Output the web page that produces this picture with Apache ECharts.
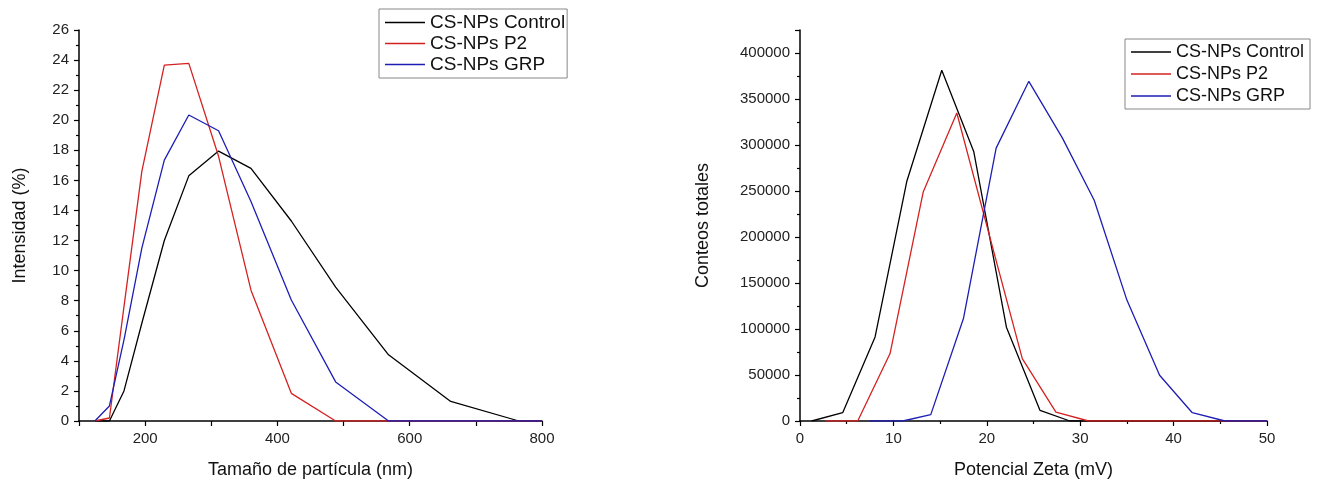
<!DOCTYPE html>
<html>
<head>
<meta charset="utf-8">
<script src="https://cdn.jsdelivr.net/npm/echarts@6/dist/echarts.min.js"></script>
<style>
html, body { margin: 0; padding: 0; background: #fff; }
#chart { width: 1318px; height: 483px; }
</style>
</head>
<body>
<div id="chart"></div>
<script>
// nombres de las series
var seriesNames = ['CS-NPs Control', 'CS-NPs P2', 'CS-NPs GRP'];
var seriesColors = ['#000000', '#d42222', '#1e1eb4'];

// grafico izquierdo: tamaño de particula (nm) vs intensidad (%)
var sizeNm = [124, 146, 168, 195, 229, 266, 311, 360, 421, 488, 568, 662, 765, 800];
var intControl = [0, 0, 2.0, 6.5, 12.0, 16.3, 17.95, 16.8, 13.3, 8.9, 4.4, 1.3, 0, 0];
var intP2 = [0, 0.2, 7.6, 16.6, 23.67, 23.78, 17.6, 8.7, 1.84, 0, 0, 0, 0, 0];
var intGrp = [0, 1.0, 5.4, 11.5, 17.35, 20.35, 19.3, 14.6, 8.05, 2.6, 0, 0, 0, 0];
var sizeTicks = [200, 400, 600, 800];

// grafico derecho: potencial zeta (mV) vs conteos totales
var zetaControl = [1.25, 4.57, 8.04, 11.43, 15.18, 18.6, 22.1, 25.7, 28.9, 50];
var countsControl = [0, 9000, 91400, 260300, 381200, 293000, 102000, 11500, 0, 0];
var zetaP2 = [2.7, 6.18, 9.64, 13.2, 16.79, 20.3, 23.8, 27.4, 30.9, 50];
var countsP2 = [0, 0, 73300, 249300, 334800, 201000, 67800, 9700, 0, 0];
var zetaGrp = [7.5, 11.0, 14.0, 17.5, 21.0, 24.5, 28.1, 31.5, 35.0, 38.5, 42.0, 45.5, 50];
var countsGrp = [0, 0, 6900, 111400, 296600, 369200, 307500, 240000, 131400, 49700, 9000, 0, 0];

var FONT = 'Arial, "Liberation Sans", sans-serif';

function zip(xs, ys) {
	var out = [];
	for (var i = 0; i < xs.length; i++) {
		out.push([xs[i], ys[i]]);
	}
	return out;
}

function axisBase(extra) {
	var base = {
		type: 'value',
		nameLocation: 'middle',
		nameTextStyle: { fontFamily: FONT, fontSize: 18, color: '#111' },
		axisLine: { show: true, onZero: false, lineStyle: { color: '#000', width: 1.5 } },
		axisTick: { show: true, length: 5, lineStyle: { color: '#000', width: 1.2 } },
		minorTick: { show: true, splitNumber: 2, length: 3, lineStyle: { color: '#000', width: 1.2 } },
		axisLabel: { fontFamily: FONT, fontSize: 15, color: '#222', margin: 10 },
		splitLine: { show: false },
		minorSplitLine: { show: false }
	};
	for (var k in extra) base[k] = extra[k];
	return base;
}

function lineSeries(name, idx, data, color) {
	return {
		name: name,
		type: 'line',
		xAxisIndex: idx,
		yAxisIndex: idx,
		data: data,
		symbol: 'none',
		lineStyle: { color: color, width: 1.3 },
		itemStyle: { color: color },
		animation: false
	};
}

function legendAt(left, top, fontSize, gap, padRight) {
	return {
		left: left,
		top: top,
		orient: 'vertical',
		data: seriesNames,
		icon: 'rect',
		itemWidth: 40,
		itemHeight: 1.5,
		itemGap: gap,
		padding: [4, padRight, 4, 6],
		borderColor: '#888',
		borderWidth: 1,
		textStyle: { fontFamily: FONT, fontSize: fontSize, color: '#111' }
	};
}

var chart = echarts.init(document.getElementById('chart'), null, { renderer: 'canvas' });

var option = {
	backgroundColor: '#fff',
	animation: false,
	grid: [
		{ left: 79, right: 776, top: 30, bottom: 62, outerBoundsMode: 'none' },
		{ left: 800, right: 51, top: 30, bottom: 62, outerBoundsMode: 'none' }
	],
	legend: [legendAt(379, 9, 19, 2, 2), legendAt(1125, 39, 18, 4, 6)],
	xAxis: [
		axisBase({
			gridIndex: 0, min: 100, max: 800, interval: 100,
			name: 'Tamaño de partícula (nm)', nameGap: 40,
			minorTick: { show: false },
			axisLabel: {
				fontFamily: FONT, fontSize: 15, color: '#222', margin: 10,
				formatter: function (v) { return sizeTicks.indexOf(v) >= 0 ? String(v) : ''; }
			}
		}),
		axisBase({
			gridIndex: 1, min: 0, max: 50, interval: 10,
			name: 'Potencial Zeta (mV)', nameGap: 40
		})
	],
	yAxis: [
		axisBase({
			gridIndex: 0, min: 0, max: 26, interval: 2,
			name: 'Intensidad (%)', nameGap: 50
		}),
		axisBase({
			gridIndex: 1, min: 0, max: 425000, interval: 50000,
			name: 'Conteos totales', nameGap: 88,
			axisLabel: {
				fontFamily: FONT, fontSize: 15, color: '#222', margin: 10,
				formatter: function (v) { return v % 50000 === 0 ? String(v) : ''; }
			}
		})
	],
	series: [
		lineSeries(seriesNames[0], 0, zip(sizeNm, intControl), seriesColors[0]),
		lineSeries(seriesNames[1], 0, zip(sizeNm, intP2), seriesColors[1]),
		lineSeries(seriesNames[2], 0, zip(sizeNm, intGrp), seriesColors[2]),
		lineSeries(seriesNames[0], 1, zip(zetaControl, countsControl), seriesColors[0]),
		lineSeries(seriesNames[1], 1, zip(zetaP2, countsP2), seriesColors[1]),
		lineSeries(seriesNames[2], 1, zip(zetaGrp, countsGrp), seriesColors[2])
	]
};

chart.setOption(option);
</script>
</body>
</html>
